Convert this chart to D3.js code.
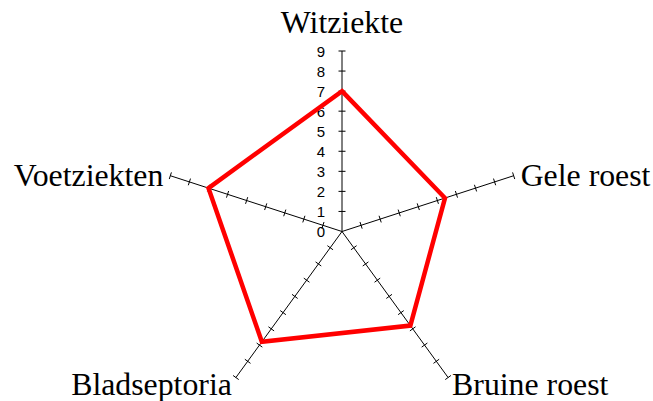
<!DOCTYPE html>
<html><head><meta charset="utf-8">
<script src="https://cdn.jsdelivr.net/npm/d3@7/dist/d3.min.js"></script>
<style>html,body{margin:0;padding:0;background:#fff;}svg{display:block;}
.cat{font-family:"Liberation Serif","Times New Roman",Times,serif;font-size:31.8px;}
.tk{font-family:"Liberation Sans",Arial,Helvetica,sans-serif;font-size:15px;}
</style>
</head><body>
<svg id="c" width="653" height="401"></svg>
<script>
const categories = ["Witziekte", "Gele roest", "Bruine roest", "Bladseptoria", "Voetziekten"];
const values = [7, 5.4, 5.8, 6.8, 7];
const tickValues = [0, 1, 2, 3, 4, 5, 6, 7, 8, 9];

const svg = d3.select("#c");
const cx = 342, cy = 231.5, R = 180.5;
const r = d3.scaleLinear().domain([0, 9]).range([0, R]);
const n = categories.length;
const ang = i => i * 2 * Math.PI / n; // clockwise from top
const pt = (i, v) => [cx + Math.sin(ang(i)) * r(v), cy - Math.cos(ang(i)) * r(v)];

const g = svg.append("g");
categories.forEach((c, i) => {
  const [x2, y2] = pt(i, 9);
  g.append("line").attr("x1", cx).attr("y1", cy).attr("x2", x2).attr("y2", y2)
    .attr("stroke", "#000").attr("stroke-width", 1);
  const a = ang(i);
  const px = Math.cos(a), py = Math.sin(a);
  tickValues.filter(t => t > 0).forEach(t => {
    const [x, y] = pt(i, t);
    g.append("line").attr("x1", x - px * 3.5).attr("y1", y - py * 3.5)
      .attr("x2", x + px * 3.5).attr("y2", y + py * 3.5)
      .attr("stroke", "#000").attr("stroke-width", 1);
  });
});
tickValues.forEach(t => {
  const [x, y] = pt(0, t);
  g.append("text").attr("class", "tk").attr("x", x - 17).attr("y", y + 5.5).attr("text-anchor", "end").text(t);
});
const line = d3.line().curve(d3.curveLinearClosed);
g.append("path").attr("d", line(values.map((v, i) => pt(i, v))))
  .attr("fill", "none").attr("stroke", "#ff0000").attr("stroke-width", 4.5)
  .attr("stroke-linejoin", "miter");
const lab = [
  {dx: 0, dy: -18, anchor: "middle"},
  {dx: 7, dy: 10.5, anchor: "start"},
  {dx: 4, dy: 17, anchor: "start"},
  {dx: -4, dy: 17, anchor: "end"},
  {dx: -7, dy: 10.5, anchor: "end"}
];
categories.forEach((c, i) => {
  const [x, y] = pt(i, 9);
  g.append("text").attr("class", "cat").attr("x", x + lab[i].dx).attr("y", y + lab[i].dy)
    .attr("text-anchor", lab[i].anchor).text(c);
});
</script>
</body></html>
